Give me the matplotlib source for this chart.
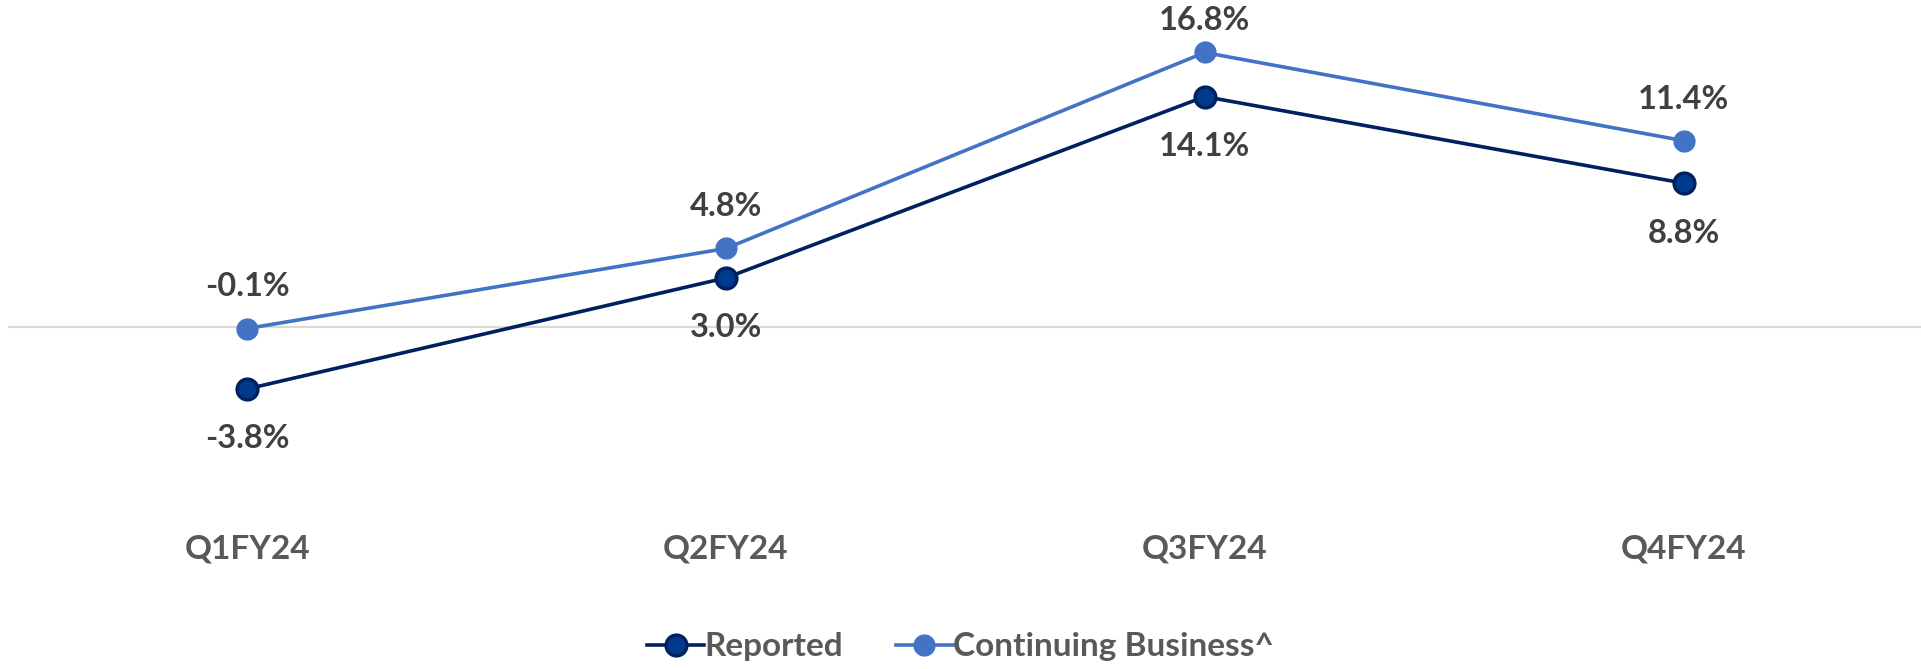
import matplotlib

matplotlib.use("Agg")
import matplotlib.pyplot as plt

quarters = ["Q1FY24", "Q2FY24", "Q3FY24", "Q4FY24"]
reported = [-3.8, 3.0, 14.1, 8.8]
continuing = [-0.1, 4.8, 16.8, 11.4]

plt.rcParams["font.family"] = ["Lato", "DejaVu Sans"]
plt.rcParams["font.weight"] = "bold"

fig = plt.figure(figsize=(19.21, 6.69), dpi=100)
ax = fig.add_axes([0.004, 0.2526, 0.997, 0.7324])

x = range(len(quarters))
ax.axhline(0, color="#D9D9D9", lw=1.5, zorder=1)
ax.plot(x, reported, color="#002060", lw=2.6, marker="o", ms=15,
        mfc="#003A8C", mec="#002060", mew=2.4, label="Reported", zorder=3)
ax.plot(x, continuing, color="#4472C4", lw=2.6, marker="o", ms=15,
        mfc="#4472C4", mec="#4472C4", label="Continuing Business^", zorder=3)

for i, v in enumerate(continuing):
    dy = 23 if i == 2 else 30
    ax.annotate(f"{v:.1f}%", (i, v), xytext=(0, dy), textcoords="offset points",
                ha="center", va="center", fontsize=23.5, color="#404040", fontweight="bold")
for i, v in enumerate(reported):
    ax.annotate(f"{v:.1f}%", (i, v), xytext=(0, -36), textcoords="offset points",
                ha="center", va="center", fontsize=23.5, color="#404040", fontweight="bold")

ax.set_xlim(-0.5, 3.5)
ax.set_ylim(-10.6, 19.4)
ax.set_xticks([])
ax.set_yticks([])
for s in ax.spines.values():
    s.set_visible(False)

# category labels sit in the space below the plot
for i, q in enumerate(quarters):
    ax.text(i, -13.6, q, ha="center", va="center", fontsize=24,
            color="#595959", fontweight="bold", clip_on=False)

fig.legend(loc="center", bbox_to_anchor=(0.5, 0.033), ncol=2, frameon=False,
           fontsize=24, labelcolor="#595959", handlelength=1.7, columnspacing=1.6,
           handletextpad=0.0)

fig.savefig("out.png", dpi=100)
